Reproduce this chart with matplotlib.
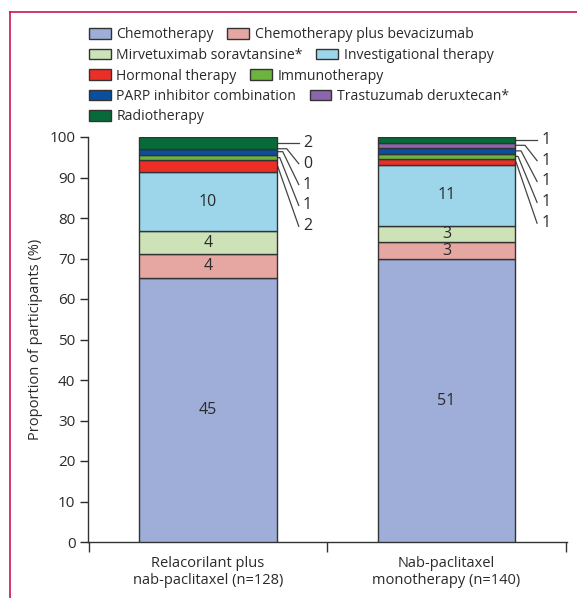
import matplotlib
matplotlib.use("Agg")
import matplotlib.pyplot as plt
import matplotlib.patches as mpatches
from matplotlib.lines import Line2D
import numpy as np

plt.rcParams["font.family"] = ["Open Sans", "DejaVu Sans"]

# Data: number of participants receiving each subsequent therapy
groups = ["Relacorilant plus\nnab-paclitaxel (n=128)", "Nab-paclitaxel\nmonotherapy (n=140)"]
therapies = [
    "Chemotherapy", "Chemotherapy plus bevacizumab", "Mirvetuximab soravtansine*",
    "Investigational therapy", "Hormonal therapy", "Immunotherapy",
    "PARP inhibitor combination", "Trastuzumab deruxtecan*", "Radiotherapy",
]
relacorilant_counts = [45, 4, 4, 10, 2, 1, 1, 0, 2]
nab_counts = [51, 3, 3, 11, 1, 1, 1, 1, 1]
colors = ["#9eaed8", "#e6a7a3", "#cde2b7", "#9dd6ea", "#ec2f26",
          "#6cb33f", "#0a4f9f", "#8c66ad", "#066b38"]
yticks = list(range(0, 101, 10))

counts = np.array([relacorilant_counts, nab_counts], dtype=float)
pct = counts / counts.sum(axis=1, keepdims=True) * 100

W, H = 577, 598
fig = plt.figure(figsize=(W / 100, H / 100), dpi=100)
ax = fig.add_axes([88 / W, 1 - 542 / H, (566.5 - 88) / W, (542 - 137) / H])

edge = "#333333"
text_col = "#2a2a2a"
bar_w = 0.576
x = np.arange(len(groups))
bottoms = np.zeros(len(groups))
for j, (name, col) in enumerate(zip(therapies, colors)):
    ax.bar(x, pct[:, j], bar_w, bottom=bottoms, color=col, edgecolor=edge,
           linewidth=1.0, label=name, zorder=3)
    if j < 4:
        for i in range(len(groups)):
            ax.text(x[i], bottoms[i] + pct[i, j] / 2, f"{int(counts[i, j])}",
                    ha="center", va="center", fontsize=11.5, color=text_col, zorder=4)
    bottoms += pct[:, j]

# Leader lines for the small segments
px = 1 / 238.0  # data units per pixel horizontally
knees = [None, 10, 6, 3, 1]
for i in range(len(groups)):
    xe = x[i] + bar_w / 2
    tops = np.cumsum(pct[i])
    top_center = None
    for k in range(5):
        j = 8 - k
        yc = tops[j] - pct[i, j] / 2
        if k == 0:
            top_center = yc
        ly = top_center - k * 5.15
        xend = xe + 22 * px
        if k == 0:
            xs, ys = [xe, xend], [yc, yc]
        else:
            xs, ys = [xe, xe + knees[k] * px, xend], [yc, yc, ly]
        ax.plot(xs, ys, color="#444444", lw=0.9, clip_on=False, zorder=2)
        ax.text(xe + 26 * px, ly, f"{int(counts[i, j])}", ha="left", va="center",
                fontsize=11.5, color=text_col)

ax.set_xlim(-0.504, 1.504)
ax.set_ylim(0, 100)
ax.set_yticks(yticks)
ax.tick_params(axis="y", labelsize=11, colors=text_col, length=6, width=1, pad=3)
ax.set_xticks(x)
ax.set_xticklabels(groups, fontsize=10.5, color=text_col, linespacing=1.15)
ax.tick_params(axis="x", length=0, pad=10)
ax.set_xticks([-0.5, 0.5, 1.5], minor=True)
ax.tick_params(axis="x", which="minor", length=7, width=1, color=edge)
for s in ["top", "right"]:
    ax.spines[s].set_visible(False)
for s in ["left", "bottom"]:
    ax.spines[s].set_linewidth(1)
    ax.spines[s].set_color(edge)
ax.set_ylabel("Proportion of participants (%)", fontsize=10.5, color=text_col, labelpad=5)

# Legend laid out row by row
handles = {n: mpatches.Patch(facecolor=c, edgecolor=edge, linewidth=1) for n, c in zip(therapies, colors)}
rows = [therapies[0:2], therapies[2:4], therapies[4:6], therapies[6:8], therapies[8:9]]
for r, names in enumerate(rows):
    yr = 1 - (35 + r * 20.5) / H
    leg = fig.legend([handles[n] for n in names], names, loc="center left",
                     bbox_to_anchor=(89 / W, yr), ncol=len(names), frameon=False,
                     fontsize=10.1, borderpad=0, borderaxespad=0, handlelength=1.55,
                     handleheight=0.8, handletextpad=0.4, columnspacing=0.95,
                     labelcolor=text_col)

# Journal frame lines
frame_col = "#c8174a"
fig.add_artist(Line2D([10 / W, 1], [1 - 12 / H, 1 - 12 / H], color=frame_col, lw=1.2))
fig.add_artist(Line2D([10 / W, 10 / W], [0, 1 - 12 / H], color=frame_col, lw=1.2))

fig.savefig("out.png", dpi=100)
